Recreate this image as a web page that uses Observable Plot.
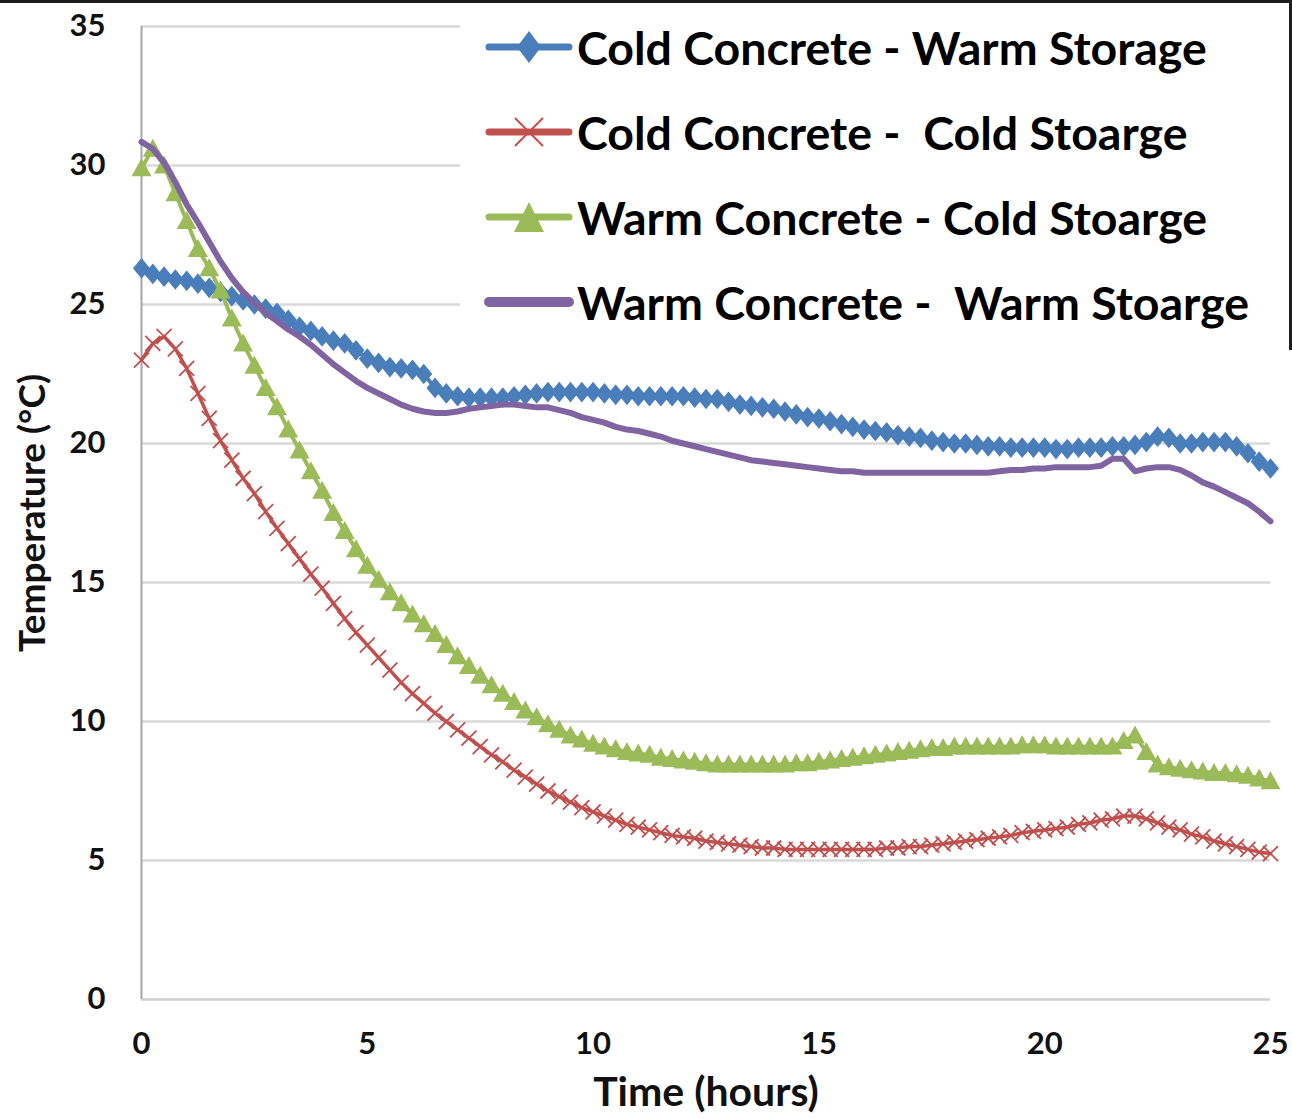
<!DOCTYPE html>
<html>
<head>
<meta charset="utf-8">
<script src="https://cdn.jsdelivr.net/npm/d3@7"></script>
<script src="https://cdn.jsdelivr.net/npm/@observablehq/plot@0.6"></script>
<style>
  html, body { margin: 0; padding: 0; background: #fff; }
  #wrap { position: relative; width: 1292px; height: 1119px; overflow: hidden; background: #fff; font-family: Lato, "Open Sans", sans-serif; }
  #topline { position: absolute; left: 0; top: 0; width: 1292px; height: 3px; background: #1e1e1e; }
  #rightline { position: absolute; right: 0; top: 0; width: 3px; height: 350px; background: #1e1e1e; }
  #legend { position: absolute; left: 460px; top: 3px; width: 810px; height: 332px; background: #fff; }
  .row { position: absolute; left: 0; height: 60px; display: flex; align-items: center; white-space: nowrap; }
  .row svg { display: block; margin-left: 24px; margin-right: 3px; }
  .row span { font-family: Lato, sans-serif; font-weight: 700; font-size: 46.5px; color: #000; letter-spacing: 0px; }
</style>
</head>
<body>
<div id="wrap"><div id="chart"></div><div id="legend"></div><div id="topline"></div><div id="rightline"></div></div>
<script>
const hours = d3.range(0, 25.001, 0.25);

const seriesNames = [
  "Cold Concrete - Warm Storage",
  "Cold Concrete -  Cold Stoarge",
  "Warm Concrete - Cold Stoarge",
  "Warm Concrete -  Warm Stoarge"
];

const coldConcreteWarmStorage = [
  26.3, 26.1, 26.0, 25.9, 25.85, 25.75, 25.6, 25.45, 25.3, 25.15,
  25.0, 24.85, 24.7, 24.45, 24.2, 24.05, 23.85, 23.7, 23.6, 23.35,
  23.05, 22.9, 22.75, 22.7, 22.65, 22.5, 22.0, 21.8, 21.7, 21.65,
  21.65, 21.65, 21.65, 21.7, 21.75, 21.8, 21.85, 21.85, 21.85, 21.85,
  21.85, 21.8, 21.75, 21.75, 21.7, 21.7, 21.7, 21.7, 21.7, 21.65,
  21.6, 21.6, 21.5, 21.4, 21.35, 21.3, 21.25, 21.15, 21.05, 20.95,
  20.9, 20.8, 20.7, 20.6, 20.5, 20.45, 20.4, 20.3, 20.25, 20.2,
  20.1, 20.05, 20.0, 20.0, 19.95, 19.9, 19.9, 19.85, 19.85, 19.85,
  19.85, 19.8, 19.8, 19.85, 19.85, 19.85, 19.9, 19.9, 19.95, 20.05,
  20.25, 20.2, 20.0, 20.0, 20.05, 20.05, 20.05, 19.9, 19.65, 19.35,
  19.1
];

const coldConcreteColdStorage = [
  23.0, 23.6, 23.85, 23.4, 22.7, 21.8, 20.9, 20.1, 19.4, 18.75,
  18.2, 17.55, 16.95, 16.4, 15.85, 15.3, 14.8, 14.25, 13.7, 13.2,
  12.75, 12.3, 11.85, 11.4, 11.0, 10.65, 10.3, 10.0, 9.7, 9.4,
  9.1, 8.8, 8.55, 8.25, 8.0, 7.75, 7.5, 7.3, 7.1, 6.9,
  6.75, 6.6, 6.45, 6.3, 6.2, 6.1, 6.0, 5.9, 5.85, 5.8,
  5.7, 5.65, 5.6, 5.55, 5.5, 5.45, 5.45, 5.4, 5.4, 5.4,
  5.4, 5.4, 5.4, 5.4, 5.4, 5.4, 5.45, 5.45, 5.5, 5.5,
  5.55, 5.6, 5.65, 5.7, 5.75, 5.8, 5.85, 5.9, 6.0, 6.05,
  6.1, 6.15, 6.2, 6.3, 6.35, 6.45, 6.5, 6.6, 6.6, 6.5,
  6.35, 6.2, 6.1, 5.95, 5.85, 5.7, 5.6, 5.5, 5.4, 5.3,
  5.25
];

const warmConcreteColdStorage = [
  29.9, 30.6, 30.0, 29.0, 28.0, 27.0, 26.3, 25.5, 24.5, 23.6,
  22.8, 22.0, 21.3, 20.5, 19.75, 19.0, 18.3, 17.5, 16.85, 16.2,
  15.6, 15.1, 14.65, 14.25, 13.85, 13.5, 13.15, 12.75, 12.35, 12.0,
  11.65, 11.3, 11.0, 10.7, 10.4, 10.15, 9.9, 9.7, 9.5, 9.35,
  9.2, 9.1, 9.0, 8.9, 8.85, 8.8, 8.7, 8.65, 8.6, 8.55,
  8.5, 8.45, 8.45, 8.45, 8.45, 8.45, 8.45, 8.45, 8.5, 8.5,
  8.55, 8.6, 8.65, 8.7, 8.75, 8.8, 8.85, 8.9, 8.95, 9.0,
  9.05, 9.05, 9.1, 9.1, 9.1, 9.1, 9.1, 9.1, 9.15, 9.15,
  9.15, 9.1, 9.1, 9.1, 9.1, 9.1, 9.1, 9.3, 9.5, 8.9,
  8.45, 8.35, 8.3, 8.25, 8.2, 8.15, 8.15, 8.1, 8.05, 7.95,
  7.85
];

const warmConcreteWarmStorage = [
  30.85, 30.6, 30.1, 29.4, 28.6, 27.95, 27.25, 26.55, 25.95, 25.45,
  25.05, 24.7, 24.4, 24.1, 23.85, 23.55, 23.2, 22.85, 22.55, 22.25,
  22.0, 21.8, 21.6, 21.4, 21.25, 21.15, 21.1, 21.1, 21.15, 21.25,
  21.3, 21.35, 21.4, 21.4, 21.35, 21.3, 21.3, 21.2, 21.1, 20.95,
  20.85, 20.75, 20.6, 20.5, 20.45, 20.35, 20.25, 20.1, 20.0, 19.9,
  19.8, 19.7, 19.6, 19.5, 19.4, 19.35, 19.3, 19.25, 19.2, 19.15,
  19.1, 19.05, 19.0, 19.0, 18.95, 18.95, 18.95, 18.95, 18.95, 18.95,
  18.95, 18.95, 18.95, 18.95, 18.95, 18.95, 19.0, 19.05, 19.05, 19.1,
  19.1, 19.15, 19.15, 19.15, 19.15, 19.2, 19.45, 19.45, 19.0, 19.1,
  19.15, 19.15, 19.05, 18.85, 18.6, 18.45, 18.25, 18.05, 17.85, 17.55,
  17.2
];

const xTicks = [0, 5, 10, 15, 20, 25];
const yTicks = [0, 5, 10, 15, 20, 25, 30, 35];
const xLabel = "Time (hours)";
const yLabel = "Temperature (°C)";

// ---- styling ----
const colors = ["#4a7ebb", "#c0504d", "#9bbb59", "#8064a2"];

const diamondSym = { draw(ctx, size) { const r = Math.sqrt(size / Math.PI); const h = r * 1.15, w = r * 0.95;
  ctx.moveTo(0, -h); ctx.lineTo(w, 0); ctx.lineTo(0, h); ctx.lineTo(-w, 0); ctx.closePath(); } };
const triSym = { draw(ctx, size) { const r = Math.sqrt(size / Math.PI);
  ctx.moveTo(0, -r); ctx.lineTo(r, r * 0.8); ctx.lineTo(-r, r * 0.8); ctx.closePath(); } };
const xSym = { draw(ctx, size) { const r = Math.sqrt(size / Math.PI);
  ctx.moveTo(-r, -r); ctx.lineTo(r, r); ctx.moveTo(r, -r); ctx.lineTo(-r, r); } };

const toRows = (vals) => hours.map((t, i) => ({ t, v: vals[i] }));
const blue = toRows(coldConcreteWarmStorage);
const red = toRows(coldConcreteColdStorage);
const green = toRows(warmConcreteColdStorage);
const purple = toRows(warmConcreteWarmStorage);

const chart = Plot.plot({
  width: 1292,
  height: 1119,
  marginLeft: 141,
  marginRight: 22,
  marginTop: 26,
  marginBottom: 120,
  style: { fontFamily: "Lato, sans-serif", background: "transparent", overflow: "visible" },
  x: { domain: [0, 25] },
  y: { domain: [0, 35] },
  marks: [
    Plot.ruleY(yTicks.filter(d => d > 0), { stroke: "#d9d9d9", strokeWidth: 2.5 }),
    Plot.ruleY([0], { stroke: "#d0d0d0", strokeWidth: 2.5 }),
    Plot.ruleX([0], { stroke: "#a6a6a6", strokeWidth: 2 }),
    Plot.axisY({ ticks: yTicks, tickSize: 0, tickPadding: 36, fontSize: 31, fontWeight: "bold", fill: "#111", label: null }),
    Plot.axisX({ ticks: xTicks, tickSize: 0, tickPadding: 32, fontSize: 31, fontWeight: "bold", fill: "#111", label: null }),
    Plot.text([xLabel], { frameAnchor: "bottom", dy: 106, fontSize: 41, fontWeight: "bold", fill: "#111" }),
    Plot.text([yLabel], { frameAnchor: "left", textAnchor: "middle", dx: -108, rotate: -90, fontSize: 37, fontWeight: "bold", fill: "#111" }),
    // Cold Concrete - Warm Storage (blue, diamonds)
    Plot.line(blue, { x: "t", y: "v", stroke: colors[0], strokeWidth: 4 }),
    Plot.dot(blue, { x: "t", y: "v", symbol: diamondSym, r: 9, fill: colors[0], stroke: "none" }),
    // Cold Concrete - Cold Storage (red, x)
    Plot.line(red, { x: "t", y: "v", stroke: colors[1], strokeWidth: 3.5 }),
    Plot.dot(red, { x: "t", y: "v", symbol: xSym, r: 7.5, fill: "none", stroke: colors[1], strokeWidth: 1.8 }),
    // Warm Concrete - Cold Storage (green, triangles)
    Plot.line(green, { x: "t", y: "v", stroke: colors[2], strokeWidth: 4 }),
    Plot.dot(green, { x: "t", y: "v", symbol: triSym, r: 10, fill: colors[2], stroke: "none" }),
    // Warm Concrete - Warm Storage (purple, line only)
    Plot.line(purple, { x: "t", y: "v", stroke: colors[3], strokeWidth: 6 })
  ]
});
document.getElementById("chart").appendChild(chart);

// ---- legend (HTML overlay, as in the original figure) ----
const legend = document.getElementById("legend");
const rowCenters = [44, 129, 214, 299];
const swatch = (i) => {
  const c = colors[i];
  const line = `<line x1="5" y1="25" x2="85" y2="25" stroke="${c}" stroke-width="${i === 3 ? 10 : 7}" stroke-linecap="round"/>`;
  let m = "";
  if (i === 0) m = `<path d="M45,9 L57,25 L45,41 L33,25 Z" fill="${c}"/>`;
  if (i === 1) m = `<path d="M31,11 L59,39 M59,11 L31,39" stroke="${c}" stroke-width="2" fill="none"/>`;
  if (i === 2) m = `<path d="M45,10 L60,40 L30,40 Z" fill="${c}"/>`;
  return `<svg width="90" height="50" viewBox="0 0 90 50">${line}${m}</svg>`;
};
seriesNames.forEach((name, i) => {
  const row = document.createElement("div");
  row.className = "row";
  row.style.top = (rowCenters[i] - 30) + "px";
  row.innerHTML = swatch(i) + `<span>${name.replace(/ /g, "&nbsp;")}</span>`;
  legend.appendChild(row);
});
</script>
</body>
</html>
